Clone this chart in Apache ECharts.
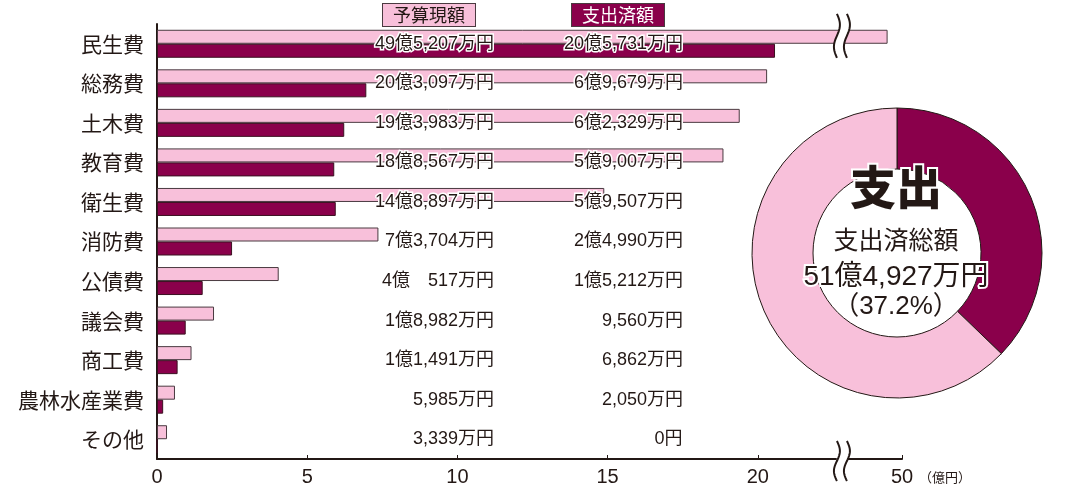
<!DOCTYPE html>
<html>
<head>
<meta charset="utf-8">
<script src="https://cdn.jsdelivr.net/npm/echarts@6/dist/echarts.min.js"></script>
<style>
html, body { margin: 0; padding: 0; background: #fff; }
#chart { width: 1081px; height: 484px; }
</style>
</head>
<body>
<div id="chart"></div>
<script>
// 単位：万円
var categories = ['民生費', '総務費', '土木費', '教育費', '衛生費', '消防費', '公債費', '議会費', '商工費', '農林水産業費', 'その他'];
var budget = [495207, 203097, 193983, 188567, 148897, 73704, 40517, 18982, 11491, 5985, 3339];
var spent = [205731, 69679, 62329, 59007, 59507, 24990, 15212, 9560, 6862, 2050, 0];
var tickValues = [0, 5, 10, 15, 20, 50];

var PINK = '#f8c0da';
var MAROON = '#8a004b';
var INK = '#231815';
var FONT = "'Liberation Sans', 'Noto Sans CJK JP', sans-serif";
var JP = "'Noto Sans CJK JP', sans-serif";

function fmt(man) {
    if (man === 0) return '0円';
    var oku = Math.floor(man / 10000);
    var r = man % 10000;
    var rs = r.toLocaleString('en-US');
    if (oku === 0) return rs + '万円';
    if (r < 1000) rs = '\u3000' + rs;
    return oku + '億' + rs + '万円';
}

function sum(a) { return a.reduce(function (s, v) { return s + v; }, 0); }
var totalBudget = sum(budget);
var totalSpent = sum(spent);
var rate = (totalSpent / totalBudget * 100).toFixed(1);

var gridLeft = 157;
var col1 = 494 - gridLeft;
var col2 = 683 - gridLeft;

var myChart = echarts.init(document.getElementById('chart'));

var labelBase = {
    show: true,
    align: 'right',
    verticalAlign: 'middle',
    color: INK,
    fontSize: 18,
    fontFamily: FONT,
    textBorderColor: '#fff',
    textBorderWidth: 3
};

var option = {
    animation: false,
    grid: { left: gridLeft, right: 179, top: 24, bottom: 25, outerBoundsMode: 'none' },
    xAxis: {
        type: 'value',
        min: 0,
        max: 50,
        breaks: [{ start: 22.6, end: 48.2, gap: 0.4 }],
        breakArea: { show: false },
        name: '（億円）',
        nameLocation: 'end',
        nameGap: 8,
        nameTextStyle: { fontSize: 13, color: INK, fontFamily: JP, verticalAlign: 'top', padding: [12, 0, 0, 0] },
        axisLine: { show: true, lineStyle: { color: INK, width: 2 } },
        axisTick: { show: true, inside: true, length: 4, customValues: tickValues, lineStyle: { color: INK } },
        axisLabel: { customValues: tickValues, fontSize: 20, color: INK, fontFamily: FONT, margin: 8 },
        splitLine: { show: false }
    },
    yAxis: {
        type: 'category',
        inverse: true,
        data: categories,
        axisLine: { lineStyle: { color: INK, width: 2 } },
        axisTick: { show: false },
        axisLabel: { fontSize: 21, color: INK, fontFamily: JP, margin: 13 }
    },
    series: [
        {
            name: '予算現額',
            type: 'bar',
            barWidth: 14,
            barGap: '0%',
            data: budget.map(function (v) { return v / 10000; }),
            itemStyle: { color: PINK, borderColor: '#4a3a40', borderWidth: 1 },
            label: Object.assign({}, labelBase, {
                position: [col1, 14],
                formatter: function (p) { return fmt(budget[p.dataIndex]); }
            }),
            z: 2
        },
        {
            name: '支出済額',
            type: 'bar',
            barWidth: 14,
            barGap: '0%',
            data: spent.map(function (v) { return v / 10000; }),
            itemStyle: { color: MAROON, borderColor: '#3a1020', borderWidth: 1 },
            label: Object.assign({}, labelBase, {
                position: [col2, 0],
                formatter: function (p) { return fmt(spent[p.dataIndex]); }
            }),
            z: 2
        },
        {
            type: 'pie',
            center: [897, 253],
            radius: [84, 145],
            startAngle: 90,
            silent: true,
            label: { show: false },
            labelLine: { show: false },
            itemStyle: { borderColor: INK, borderWidth: 1 },
            data: [
                { name: '支出済額', value: totalSpent, itemStyle: { color: MAROON } },
                { name: '未支出', value: totalBudget - totalSpent, itemStyle: { color: PINK } }
            ]
        }
    ]
};

myChart.setOption(option);

// 軸の省略記号（波線）
function wave(x, y0, y1, amp) {
    var pts = [];
    for (var i = 0; i <= 24; i++) {
        var t = i / 24;
        pts.push([x + amp * Math.sin(t * 2 * Math.PI), y0 + (y1 - y0) * t]);
    }
    return pts;
}
function breakMark(x, y0, y1) {
    var a = wave(x - 5, y0, y1, 3);
    var b = wave(x + 5, y0, y1, 3);
    return [
        { type: 'polygon', shape: { points: a.concat(b.slice().reverse()) }, style: { fill: '#fff' }, z: 10 },
        { type: 'polyline', shape: { points: a }, style: { stroke: INK, lineWidth: 2, fill: null }, z: 11 },
        { type: 'polyline', shape: { points: b }, style: { stroke: INK, lineWidth: 2, fill: null }, z: 11 }
    ];
}

var bx = (myChart.convertToPixel({ xAxisIndex: 0 }, 22.6) + myChart.convertToPixel({ xAxisIndex: 0 }, 48.2)) / 2;
var rowTop = myChart.convertToPixel({ yAxisIndex: 0 }, categories[0]);
var axisY = myChart.getHeight() - 25;

function boxText(text, cx, fill, color) {
    return {
        type: 'text', z: 12,
        style: {
            text: text, x: cx, y: 15, align: 'center', verticalAlign: 'middle',
            font: '18px ' + JP, fill: color,
            backgroundColor: fill, borderColor: '#4a3a40', borderWidth: 1,
            padding: [2, 10, 2, 10]
        }
    };
}

function centerText(text, y, size, weight) {
    return {
        type: 'text', z: 12,
        style: {
            text: text, x: 896, y: y, align: 'center', verticalAlign: 'middle',
            font: weight + ' ' + size + 'px ' + FONT, fill: INK,
            stroke: '#fff', lineWidth: 4
        }
    };
}

var graphics = []
    .concat(breakMark(bx, rowTop - 30, rowTop + 14))
    .concat(breakMark(bx, axisY - 18, axisY + 22))
    .concat([
        boxText('予算現額', gridLeft + col1 - 65, PINK, INK),
        boxText('支出済額', gridLeft + col2 - 65, MAROON, '#fff'),
        centerText('支出', 191, 46, '900'),
        centerText('支出済総額', 242, 25, 'normal'),
        centerText(fmt(totalSpent), 277, 28, 'normal'),
        centerText('（' + rate + '%）', 307, 26, 'normal')
    ]);

myChart.setOption({ graphic: graphics });
</script>
</body>
</html>
